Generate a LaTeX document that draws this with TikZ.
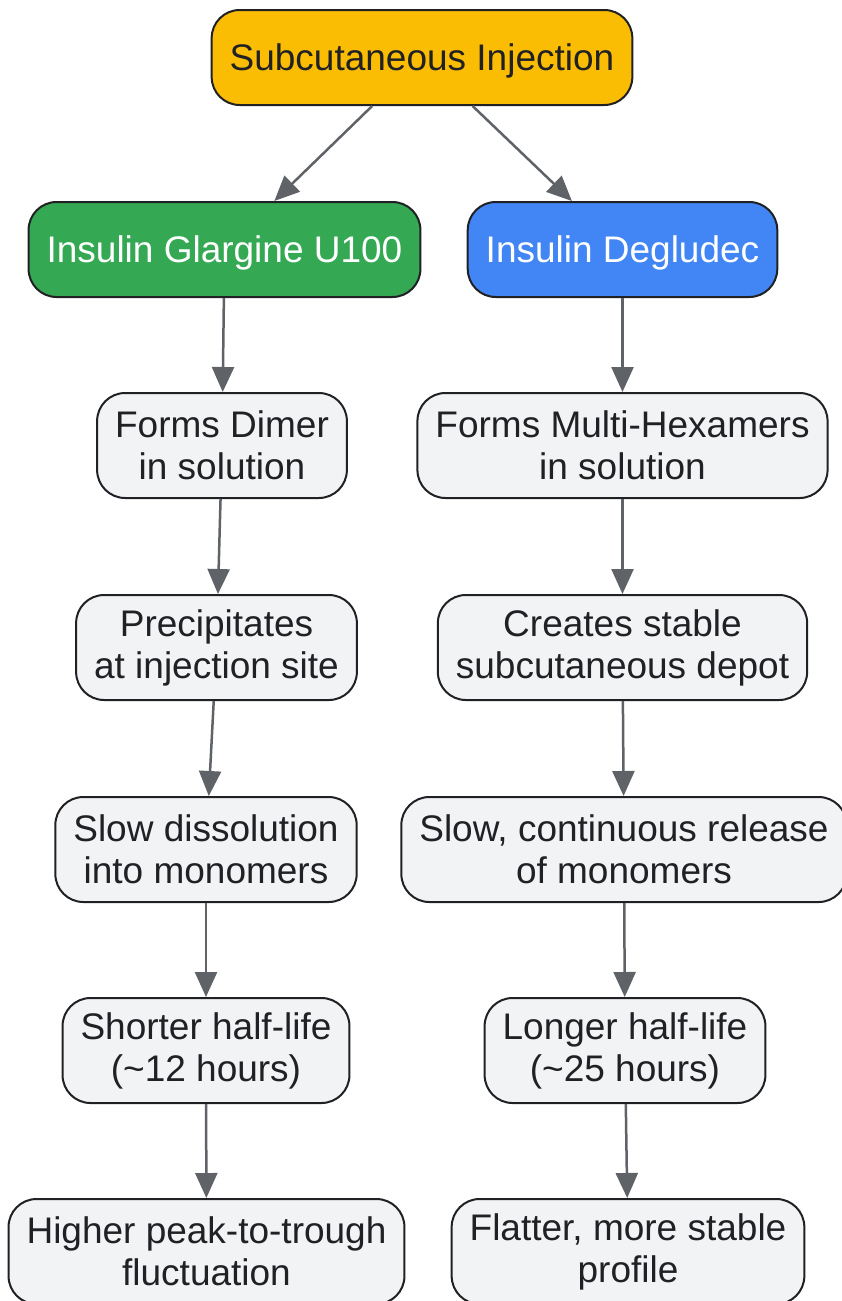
\documentclass[tikz,border=0pt]{standalone}
\usepackage{fontspec}
\setmainfont{Liberation Sans}
\usetikzlibrary{arrows.meta,%
                shapes,positioning}
\definecolor{injyellow}{HTML}{FBBC04}
\definecolor{glargreen}{HTML}{34A853}
\definecolor{degblue}{HTML}{4285F4}
\definecolor{stepgrey}{HTML}{F1F3F4}
\definecolor{boxline}{HTML}{202124}
\definecolor{ink}{HTML}{202124}
\definecolor{arrowgrey}{HTML}{5F6368}
\tikzset{
  box/.style={draw=boxline, line width=2pt, rounded corners=28pt, fill=stepgrey,
              text=ink, align=center, inner xsep=18pt, minimum height=105pt,
              font=\fontsize{37}{42}\selectfont,
              execute at begin node={\rule{0pt}{33pt}}},
  head/.style={box, minimum height=95pt},
  flow/.style={draw=arrowgrey, line width=2.5pt, -{Triangle[length=25pt,width=22pt]}}
}

\begin{document}
\begin{tikzpicture}[x=1pt,y=-1pt]
\useasboundingbox (0,0) rectangle (841,1301);
% top
\node[head, fill=injyellow] (inj) at (422, 57.5) {Subcutaneous Injection};
\node[head, fill=glargreen, text=white] (glar) at (224.5, 249.5) {Insulin Glargine U100};
\node[head, fill=degblue, text=white] (deg) at (622.5, 249.5) {Insulin Degludec};
% glargine column
\node[box] (dimer) at (222, 445.5) {Forms Dimer\\in solution};
\node[box] (precip) at (216.5, 647.5) {Precipitates\\at injection site};
\node[box] (dissol) at (206, 849.5) {Slow dissolution\\into monomers};
\node[box] (short) at (206, 1050.5) {Shorter half-life\\(\textasciitilde12 hours)};
\node[box] (peak) at (206.5, 1251.5) {Higher peak-to-trough\\fluctuation};
% degludec column
\node[box] (hexa) at (622.5, 445.5) {Forms Multi-Hexamers\\in solution};
\node[box] (depot) at (622.5, 647.5) {Creates stable\\subcutaneous depot};
\node[box] (release) at (624, 849.5) {Slow, continuous release\\of monomers};
\node[box] (long) at (625, 1050.5) {Longer half-life\\(\textasciitilde25 hours)};
\node[box] (flat) at (628, 1251.5) {Flatter, more stable\\profile};
% arrows
\draw[flow] (inj) -- (glar);
\draw[flow] (inj) -- (deg);
\draw[flow] (glar) -- (dimer);
\draw[flow] (dimer) -- (precip);
\draw[flow] (precip) -- (dissol);
\draw[flow] (dissol) -- (short);
\draw[flow] (short) -- (peak);
\draw[flow] (deg) -- (hexa);
\draw[flow] (hexa) -- (depot);
\draw[flow] (depot) -- (release);
\draw[flow] (release) -- (long);
\draw[flow] (long) -- (flat);
\end{tikzpicture}
\end{document}
